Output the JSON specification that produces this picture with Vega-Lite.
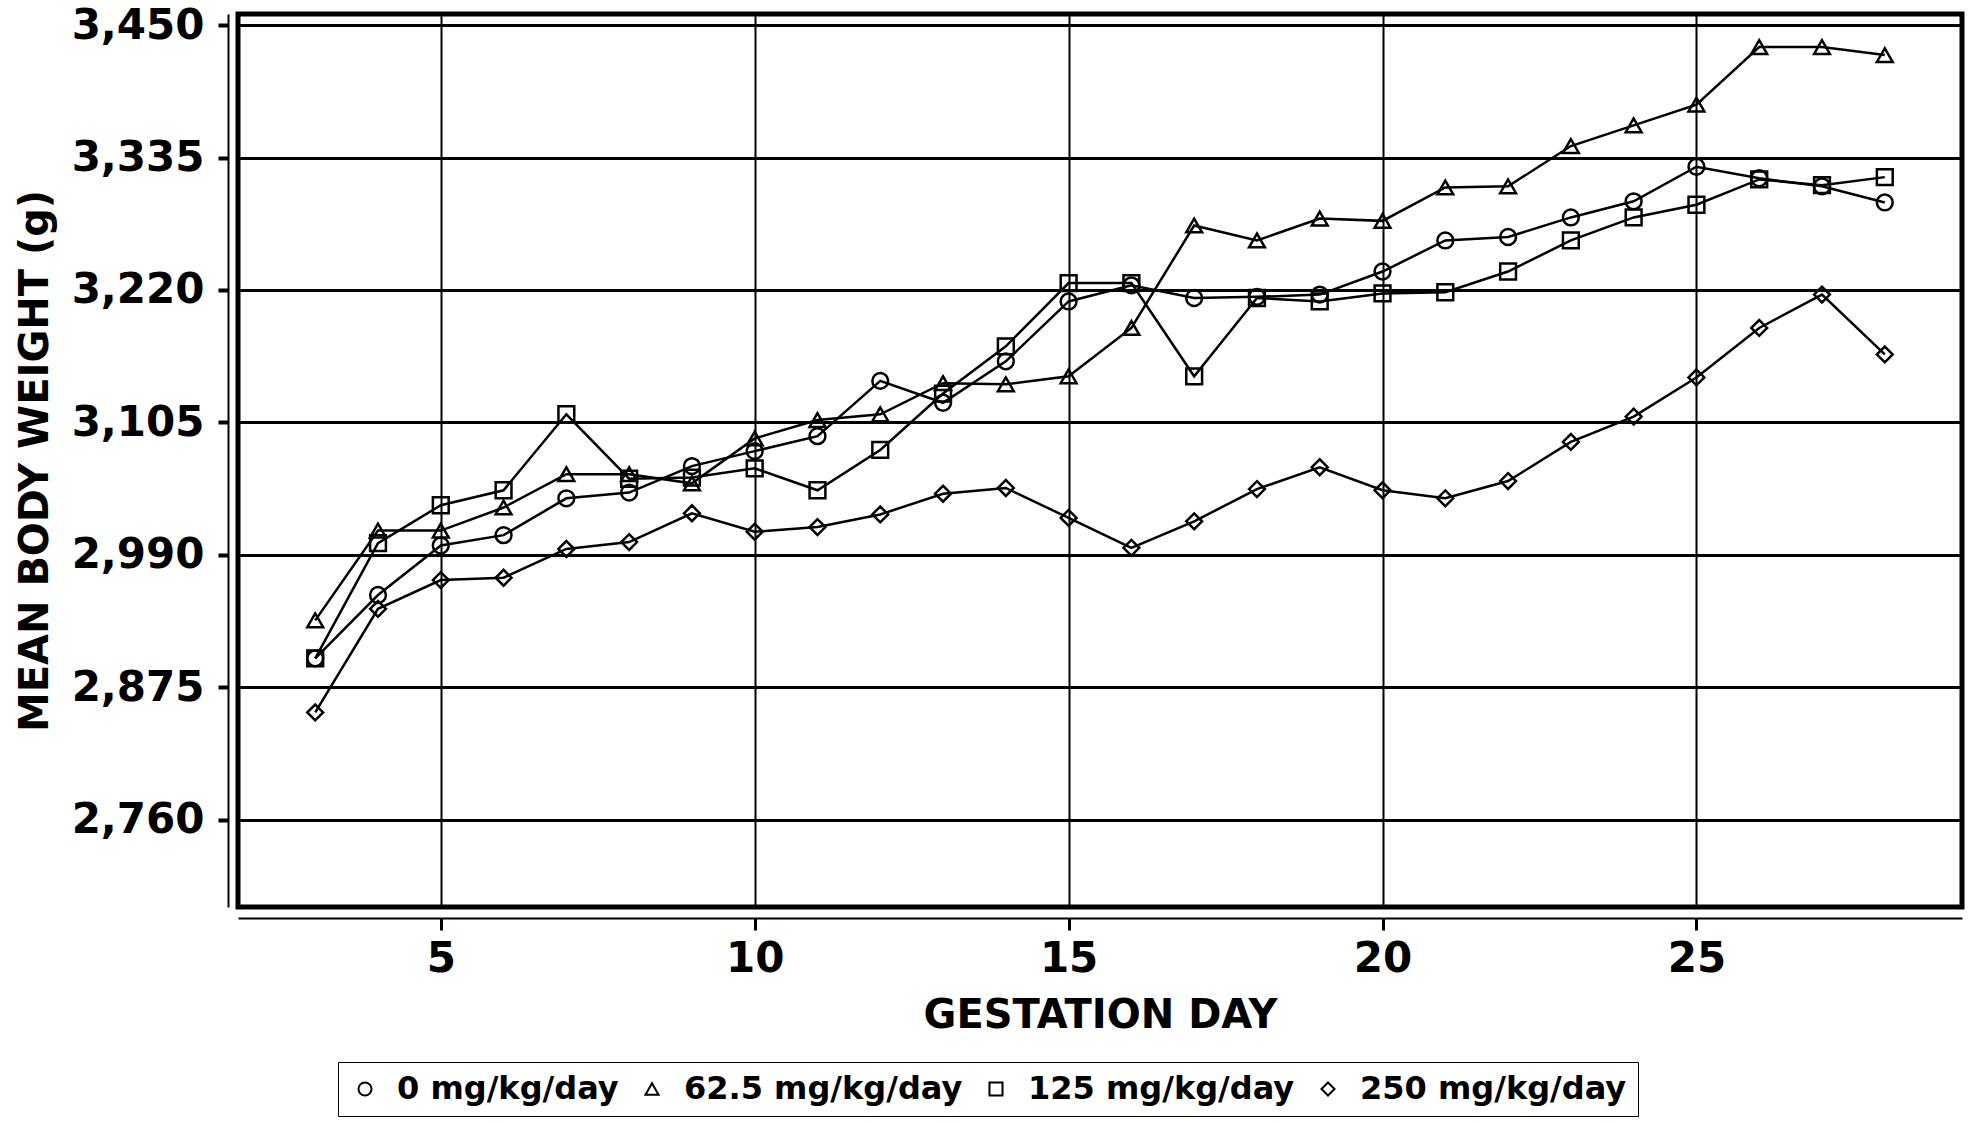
{
  "$schema": "https://vega.github.io/schema/vega-lite/v6.json",
  "width": 1724,
  "height": 893,
  "autosize": {"type": "none"},
  "padding": {"left": 238, "top": 14, "right": 13, "bottom": 216},
  "background": "white",
  "config": {
    "view": {"stroke": "black", "strokeWidth": 5},
    "font": "DejaVu Sans"
  },
  "data": {
    "values": [
      {"day": 3, "group": "0 mg/kg/day", "weight": 2900},
      {"day": 4, "group": "0 mg/kg/day", "weight": 2955},
      {"day": 5, "group": "0 mg/kg/day", "weight": 2998},
      {"day": 6, "group": "0 mg/kg/day", "weight": 3007},
      {"day": 7, "group": "0 mg/kg/day", "weight": 3039},
      {"day": 8, "group": "0 mg/kg/day", "weight": 3044},
      {"day": 9, "group": "0 mg/kg/day", "weight": 3067},
      {"day": 10, "group": "0 mg/kg/day", "weight": 3080},
      {"day": 11, "group": "0 mg/kg/day", "weight": 3093},
      {"day": 12, "group": "0 mg/kg/day", "weight": 3141},
      {"day": 13, "group": "0 mg/kg/day", "weight": 3122},
      {"day": 14, "group": "0 mg/kg/day", "weight": 3158},
      {"day": 15, "group": "0 mg/kg/day", "weight": 3210},
      {"day": 16, "group": "0 mg/kg/day", "weight": 3224},
      {"day": 17, "group": "0 mg/kg/day", "weight": 3213},
      {"day": 18, "group": "0 mg/kg/day", "weight": 3214},
      {"day": 19, "group": "0 mg/kg/day", "weight": 3216},
      {"day": 20, "group": "0 mg/kg/day", "weight": 3236},
      {"day": 21, "group": "0 mg/kg/day", "weight": 3263},
      {"day": 22, "group": "0 mg/kg/day", "weight": 3266},
      {"day": 23, "group": "0 mg/kg/day", "weight": 3283},
      {"day": 24, "group": "0 mg/kg/day", "weight": 3297},
      {"day": 25, "group": "0 mg/kg/day", "weight": 3327},
      {"day": 26, "group": "0 mg/kg/day", "weight": 3317},
      {"day": 27, "group": "0 mg/kg/day", "weight": 3310},
      {"day": 28, "group": "0 mg/kg/day", "weight": 3296},
      {"day": 3, "group": "62.5 mg/kg/day", "weight": 2933},
      {"day": 4, "group": "62.5 mg/kg/day", "weight": 3011},
      {"day": 5, "group": "62.5 mg/kg/day", "weight": 3011},
      {"day": 6, "group": "62.5 mg/kg/day", "weight": 3031},
      {"day": 7, "group": "62.5 mg/kg/day", "weight": 3060},
      {"day": 8, "group": "62.5 mg/kg/day", "weight": 3060},
      {"day": 9, "group": "62.5 mg/kg/day", "weight": 3052},
      {"day": 10, "group": "62.5 mg/kg/day", "weight": 3091},
      {"day": 11, "group": "62.5 mg/kg/day", "weight": 3107},
      {"day": 12, "group": "62.5 mg/kg/day", "weight": 3112},
      {"day": 13, "group": "62.5 mg/kg/day", "weight": 3139},
      {"day": 14, "group": "62.5 mg/kg/day", "weight": 3138},
      {"day": 15, "group": "62.5 mg/kg/day", "weight": 3145},
      {"day": 16, "group": "62.5 mg/kg/day", "weight": 3187},
      {"day": 17, "group": "62.5 mg/kg/day", "weight": 3276},
      {"day": 18, "group": "62.5 mg/kg/day", "weight": 3263},
      {"day": 19, "group": "62.5 mg/kg/day", "weight": 3282},
      {"day": 20, "group": "62.5 mg/kg/day", "weight": 3280},
      {"day": 21, "group": "62.5 mg/kg/day", "weight": 3309},
      {"day": 22, "group": "62.5 mg/kg/day", "weight": 3310},
      {"day": 23, "group": "62.5 mg/kg/day", "weight": 3345},
      {"day": 24, "group": "62.5 mg/kg/day", "weight": 3363},
      {"day": 25, "group": "62.5 mg/kg/day", "weight": 3381},
      {"day": 26, "group": "62.5 mg/kg/day", "weight": 3431},
      {"day": 27, "group": "62.5 mg/kg/day", "weight": 3431},
      {"day": 28, "group": "62.5 mg/kg/day", "weight": 3424},
      {"day": 3, "group": "125 mg/kg/day", "weight": 2900},
      {"day": 4, "group": "125 mg/kg/day", "weight": 3000},
      {"day": 5, "group": "125 mg/kg/day", "weight": 3033},
      {"day": 6, "group": "125 mg/kg/day", "weight": 3046},
      {"day": 7, "group": "125 mg/kg/day", "weight": 3112},
      {"day": 8, "group": "125 mg/kg/day", "weight": 3056},
      {"day": 9, "group": "125 mg/kg/day", "weight": 3057},
      {"day": 10, "group": "125 mg/kg/day", "weight": 3065},
      {"day": 11, "group": "125 mg/kg/day", "weight": 3046},
      {"day": 12, "group": "125 mg/kg/day", "weight": 3081},
      {"day": 13, "group": "125 mg/kg/day", "weight": 3130},
      {"day": 14, "group": "125 mg/kg/day", "weight": 3171},
      {"day": 15, "group": "125 mg/kg/day", "weight": 3226},
      {"day": 16, "group": "125 mg/kg/day", "weight": 3226},
      {"day": 17, "group": "125 mg/kg/day", "weight": 3145},
      {"day": 18, "group": "125 mg/kg/day", "weight": 3213},
      {"day": 19, "group": "125 mg/kg/day", "weight": 3210},
      {"day": 20, "group": "125 mg/kg/day", "weight": 3217},
      {"day": 21, "group": "125 mg/kg/day", "weight": 3218},
      {"day": 22, "group": "125 mg/kg/day", "weight": 3236},
      {"day": 23, "group": "125 mg/kg/day", "weight": 3263},
      {"day": 24, "group": "125 mg/kg/day", "weight": 3283},
      {"day": 25, "group": "125 mg/kg/day", "weight": 3294},
      {"day": 26, "group": "125 mg/kg/day", "weight": 3316},
      {"day": 27, "group": "125 mg/kg/day", "weight": 3311},
      {"day": 28, "group": "125 mg/kg/day", "weight": 3318},
      {"day": 3, "group": "250 mg/kg/day", "weight": 2853},
      {"day": 4, "group": "250 mg/kg/day", "weight": 2943},
      {"day": 5, "group": "250 mg/kg/day", "weight": 2968},
      {"day": 6, "group": "250 mg/kg/day", "weight": 2970},
      {"day": 7, "group": "250 mg/kg/day", "weight": 2995},
      {"day": 8, "group": "250 mg/kg/day", "weight": 3001},
      {"day": 9, "group": "250 mg/kg/day", "weight": 3026},
      {"day": 10, "group": "250 mg/kg/day", "weight": 3010},
      {"day": 11, "group": "250 mg/kg/day", "weight": 3014},
      {"day": 12, "group": "250 mg/kg/day", "weight": 3025},
      {"day": 13, "group": "250 mg/kg/day", "weight": 3043},
      {"day": 14, "group": "250 mg/kg/day", "weight": 3048},
      {"day": 15, "group": "250 mg/kg/day", "weight": 3022},
      {"day": 16, "group": "250 mg/kg/day", "weight": 2996},
      {"day": 17, "group": "250 mg/kg/day", "weight": 3019},
      {"day": 18, "group": "250 mg/kg/day", "weight": 3047},
      {"day": 19, "group": "250 mg/kg/day", "weight": 3066},
      {"day": 20, "group": "250 mg/kg/day", "weight": 3046},
      {"day": 21, "group": "250 mg/kg/day", "weight": 3039},
      {"day": 22, "group": "250 mg/kg/day", "weight": 3054},
      {"day": 23, "group": "250 mg/kg/day", "weight": 3088},
      {"day": 24, "group": "250 mg/kg/day", "weight": 3110},
      {"day": 25, "group": "250 mg/kg/day", "weight": 3144},
      {"day": 26, "group": "250 mg/kg/day", "weight": 3187},
      {"day": 27, "group": "250 mg/kg/day", "weight": 3216},
      {"day": 28, "group": "250 mg/kg/day", "weight": 3164}
    ]
  },
  "encoding": {
    "x": {
      "field": "day",
      "type": "quantitative",
      "scale": {"domain": [1.77, 29.23], "nice": false, "zero": false},
      "axis": {
        "values": [5, 10, 15, 20, 25],
        "title": "GESTATION DAY",
        "offset": 11,
        "grid": true,
        "gridColor": "black",
        "gridWidth": 2,
        "gridOpacity": 1,
        "domainColor": "black",
        "domainWidth": 2,
        "tickColor": "black",
        "tickWidth": 3,
        "tickSize": 12,
        "labelFont": "DejaVu Sans",
        "labelFontWeight": "bold",
        "labelFontSize": 42,
        "labelColor": "black",
        "labelPadding": 8,
        "titleFont": "DejaVu Sans",
        "titleFontSize": 40,
        "titleFontWeight": "bold",
        "titleColor": "black",
        "titlePadding": 16
      }
    },
    "y": {
      "field": "weight",
      "type": "quantitative",
      "scale": {"domain": [2684, 3459.7], "nice": false, "zero": false},
      "axis": {
        "values": [2760, 2875, 2990, 3105, 3220, 3335, 3450],
        "format": ",d",
        "title": "MEAN BODY WEIGHT (g)",
        "offset": 10,
        "grid": true,
        "gridColor": "black",
        "gridWidth": 3,
        "gridOpacity": 1,
        "domainColor": "black",
        "domainWidth": 2,
        "tickColor": "black",
        "tickWidth": 4,
        "tickSize": 10,
        "labelFont": "DejaVu Sans",
        "labelFontWeight": "bold",
        "labelFontSize": 42,
        "labelColor": "black",
        "labelPadding": 14,
        "titleFont": "DejaVu Sans",
        "titleFontSize": 40,
        "titleFontWeight": "bold",
        "titleColor": "black",
        "titlePadding": 16
      }
    }
  },
  "layer": [
    {
      "mark": {"type": "line", "color": "black", "strokeWidth": 2.5},
      "encoding": {"detail": {"field": "group", "type": "nominal"}}
    },
    {
      "mark": {"type": "point", "filled": false, "color": "black", "strokeWidth": 2.5, "size": 250, "opacity": 1},
      "encoding": {
        "shape": {
          "field": "group",
          "type": "nominal",
          "scale": {
            "domain": ["0 mg/kg/day", "62.5 mg/kg/day", "125 mg/kg/day", "250 mg/kg/day"],
            "range": ["circle", "triangle-up", "square", "diamond"]
          },
          "legend": {
            "title": null,
            "orient": "none",
            "direction": "horizontal",
            "legendX": 100,
            "legendY": 1048,
            "labelFont": "DejaVu Sans",
            "labelFontWeight": "bold",
            "labelFontSize": 32,
            "labelColor": "black",
            "labelLimit": 500,
            "labelOffset": 16,
            "symbolSize": 170,
            "symbolStrokeWidth": 2,
            "symbolStrokeColor": "black",
            "symbolFillColor": "white",
            "columnPadding": 17,
            "padding": 11,
            "strokeColor": "black",
            "fillColor": "white"
          }
        }
      }
    }
  ]
}
